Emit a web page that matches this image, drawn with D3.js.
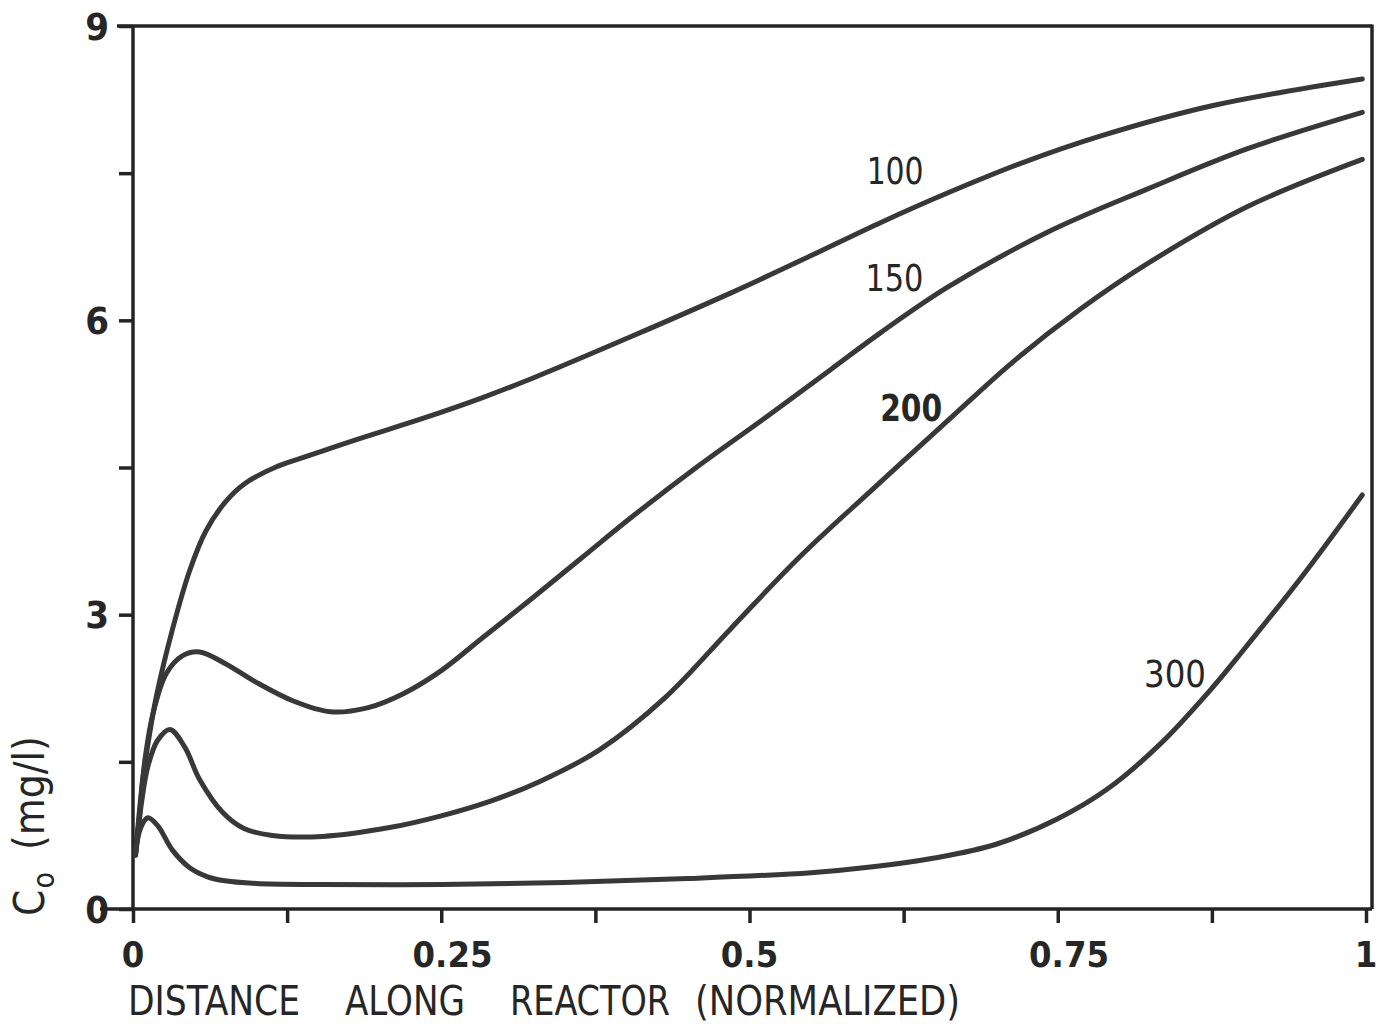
<!DOCTYPE html>
<html>
<head>
<meta charset="utf-8">
<script src="https://cdn.jsdelivr.net/npm/d3@7"></script>
<style>
  html, body { margin: 0; padding: 0; background: #fff; }
  svg { display: block; }
  text { font-family: "Liberation Sans Narrow", "DejaVu Sans Condensed", "Liberation Sans", sans-serif; fill: #262626; }
</style>
</head>
<body>
<svg id="chart" width="1384" height="1024"></svg>
<script>
// ---------- data ----------
const curve100 = [[0.002,0.55],[0.005,0.9],[0.008,1.32],[0.013,1.75],[0.019,2.17],[0.032,2.85],[0.046,3.45],[0.059,3.85],[0.075,4.15],[0.09,4.33],[0.115,4.5],[0.14,4.61],[0.18,4.78],[0.235,5.0],[0.283,5.21],[0.324,5.41],[0.405,5.84],[0.485,6.28],[0.55,6.66],[0.607,7.0],[0.661,7.3],[0.72,7.6],[0.785,7.88],[0.876,8.19],[0.997,8.46]];
const curve150 = [[0.002,0.55],[0.006,1.1],[0.01,1.55],[0.016,1.98],[0.027,2.4],[0.04,2.58],[0.054,2.62],[0.075,2.5],[0.1,2.31],[0.13,2.12],[0.16,2.01],[0.19,2.05],[0.22,2.2],[0.25,2.43],[0.283,2.76],[0.324,3.17],[0.364,3.58],[0.405,4.0],[0.459,4.52],[0.512,5.0],[0.566,5.5],[0.607,5.88],[0.661,6.34],[0.742,6.9],[0.823,7.34],[0.904,7.75],[0.997,8.12]];
const curve200 = [[0.002,0.55],[0.006,1.0],[0.012,1.45],[0.02,1.72],[0.03,1.83],[0.042,1.65],[0.054,1.32],[0.073,0.98],[0.09,0.82],[0.113,0.75],[0.154,0.74],[0.208,0.83],[0.25,0.95],[0.29,1.1],[0.33,1.3],[0.378,1.62],[0.432,2.16],[0.485,2.86],[0.54,3.58],[0.6,4.28],[0.661,4.98],[0.714,5.58],[0.769,6.12],[0.823,6.58],[0.904,7.16],[0.997,7.64]];
const curve300 = [[0.002,0.55],[0.006,0.82],[0.012,0.93],[0.02,0.85],[0.032,0.6],[0.046,0.42],[0.06,0.33],[0.073,0.29],[0.1,0.26],[0.15,0.25],[0.25,0.25],[0.35,0.27],[0.45,0.31],[0.55,0.37],[0.6,0.43],[0.65,0.52],[0.7,0.66],[0.75,0.92],[0.79,1.22],[0.833,1.68],[0.875,2.25],[0.9,2.63],[0.95,3.42],[0.997,4.22]];
const seriesNames = ["100", "150", "200", "300"];
const seriesData = [curve100, curve150, curve200, curve300];
const xTickValues = [0, 0.125, 0.25, 0.375, 0.5, 0.625, 0.75, 0.875, 1];
const xTickLabels = {0: "0", 0.25: "0.25", 0.5: "0.5", 0.75: "0.75", 1: "1"};
const yTickValues = [0, 1.5, 3, 4.5, 6, 7.5, 9];
const yTickLabels = {0: "0", 3: "3", 6: "6", 9: "9"};
const xTitleWords = ["DISTANCE", "ALONG", "REACTOR", "(NORMALIZED)"];

// ---------- layout ----------
const svg = d3.select("#chart");
const x = d3.scaleLinear().domain([0, 1]).range([133, 1366]);
const y = d3.scaleLinear().domain([0, 9]).range([909, 26]);
const frameRight = 1372;
const axisColor = "#242424";
const lineColor = "#383838";

// frame (top and right)
svg.append("line").attr("x1", 117).attr("x2", frameRight).attr("y1", y(9)).attr("y2", y(9))
  .attr("stroke", axisColor).attr("stroke-width", 3.5);
svg.append("line").attr("x1", frameRight).attr("x2", frameRight).attr("y1", y(9) - 1.5).attr("y2", y(0))
  .attr("stroke", axisColor).attr("stroke-width", 3.5);

// y axis
const yAxis = svg.append("g").attr("transform", `translate(${x(0)},0)`)
  .call(d3.axisLeft(y).tickValues(yTickValues).tickSize(14).tickSizeOuter(0).tickFormat(""));
yAxis.selectAll("path, line").attr("stroke", axisColor).attr("stroke-width", 3.5);
yAxis.select(".domain").attr("d", `M0,${y(0)}V${y(9)}`);
yAxis.selectAll(".tick text").remove();
svg.append("g").selectAll("text").data(yTickValues.filter(v => yTickLabels[v] !== undefined))
  .join("text")
  .attr("x", x(0) - 24).attr("y", d => y(d)).attr("dy", "0.36em")
  .attr("text-anchor", "end").attr("font-size", 38).attr("font-weight", "bold")
  .text(d => yTickLabels[d]);

// x axis
const xAxis = svg.append("g").attr("transform", `translate(0,${y(0)})`)
  .call(d3.axisBottom(x).tickValues(xTickValues).tickSize(14).tickSizeOuter(0).tickFormat(""));
xAxis.selectAll("path, line").attr("stroke", axisColor).attr("stroke-width", 3.5);
xAxis.select(".domain").attr("d", `M100,0H${frameRight}`);
xAxis.selectAll(".tick text").remove();
const xl = svg.append("g").selectAll("text").data(xTickValues.filter(v => xTickLabels[v] !== undefined))
  .join("text")
  .attr("y", y(0) + 58)
  .attr("font-size", 36).attr("font-weight", "bold")
  .attr("text-anchor", "start")
  .text(d => xTickLabels[d]);
xl.each(function(d) {
  const s = xTickLabels[d];
  const i = s.indexOf(".");
  let off;
  if (i >= 0) {
    off = this.getSubStringLength(0, i) + this.getSubStringLength(i, 1) / 2;
  } else {
    off = this.getComputedTextLength() / 2;
  }
  d3.select(this).attr("x", x(d) - off);
});

// x title
const titleX = [128, 345, 510, 695];
const titleW = [172, 120, 160, 265];
svg.append("g").selectAll("text").data(xTitleWords).join("text")
  .attr("x", (d, i) => titleX[i]).attr("y", 1015)
  .attr("font-size", 40)
  .attr("textLength", (d, i) => titleW[i]).attr("lengthAdjust", "spacingAndGlyphs")
  .text(d => d);

// y title
const yt = svg.append("text").attr("transform", "translate(44,916) rotate(-90)")
  .attr("font-size", 42);
yt.append("tspan").text("C");
yt.append("tspan").attr("font-size", 30).attr("dy", 10).attr("dx", 1).text("o");
yt.append("tspan").attr("dy", -10).attr("dx", 22)
  .attr("textLength", 114).attr("lengthAdjust", "spacingAndGlyphs").text("(mg/l)");

// curves
const line = d3.line().x(d => x(d[0])).y(d => y(d[1])).curve(d3.curveCatmullRom.alpha(0.5));
svg.append("g").selectAll("path").data(seriesData).join("path")
  .attr("d", line).attr("fill", "none")
  .attr("stroke", lineColor).attr("stroke-width", 5)
  .attr("stroke-linecap", "round").attr("stroke-linejoin", "round");

// curve labels (position in data units, left/baseline)
const labelPos = [[0.595, 7.39], [0.594, 6.30], [0.606, 4.97], [0.82, 2.26]];
const labelW = [57, 58, 62, 62];
svg.append("g").selectAll("text").data(seriesNames).join("text")
  .attr("x", (d, i) => x(labelPos[i][0])).attr("y", (d, i) => y(labelPos[i][1]))
  .attr("font-size", 37)
  .attr("font-weight", (d, i) => i === 2 ? "bold" : "normal")
  .attr("textLength", (d, i) => labelW[i]).attr("lengthAdjust", "spacingAndGlyphs")
  .text(d => d);
</script>
</body>
</html>
